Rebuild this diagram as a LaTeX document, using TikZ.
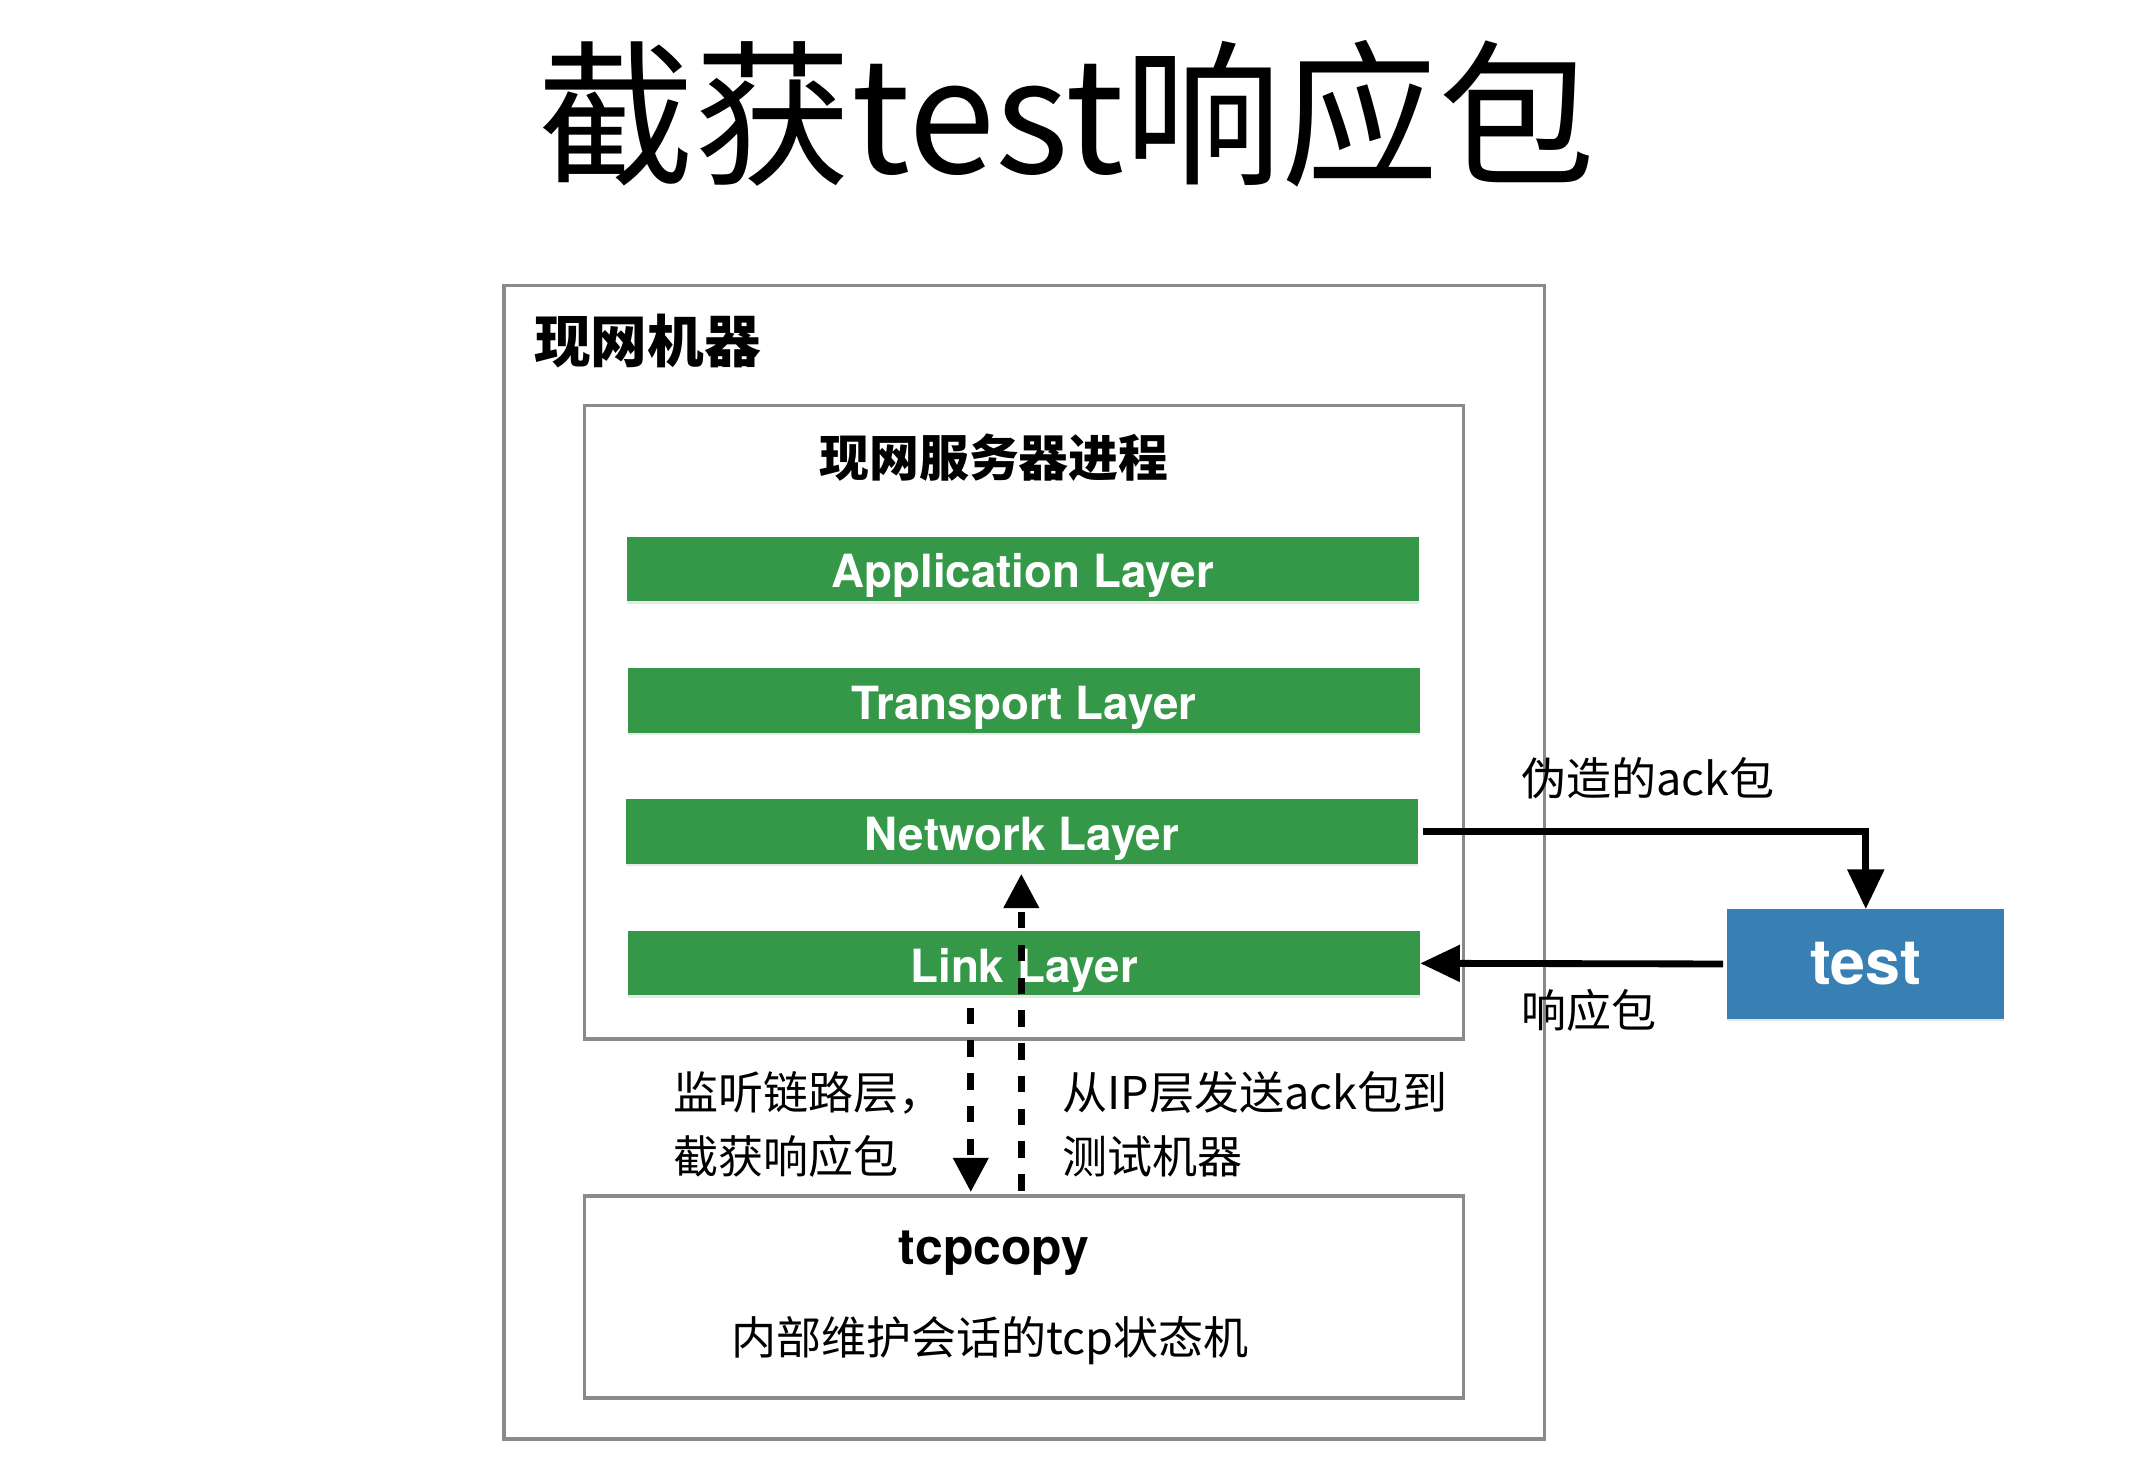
\documentclass[tikz,border=0pt]{standalone}
\usepackage{fontspec}
\setmainfont{Noto Sans CJK SC}
\newfontfamily\heros{TeX Gyre Heros}
\usetikzlibrary{arrows.meta,shadows}
\definecolor{boxgray}{RGB}{137,138,141}
\definecolor{layergreen}{RGB}{52,152,72}
\definecolor{testblue}{RGB}{56,128,180}
\tikzset{
  frame/.style={draw=boxgray, line width=2.5pt, inner sep=0pt},
  layer/.style={fill=layergreen, draw=none, minimum width=580pt, minimum height=47pt,
    inner sep=0pt, text=white, font=\heros\bfseries\fontsize{33.5}{36}\selectfont,
    text height=28pt, text depth=0pt,
    drop shadow={opacity=0.18, shadow xshift=0pt, shadow yshift=-2pt}},
  lbl/.style={inner sep=0pt, font=\fontsize{33}{47}\selectfont},
  conn/.style={line width=5pt, -{Triangle[length=29pt,width=26pt]}},
  dconn/.style={line width=5pt, dash pattern=on 12pt off 12pt, -{Triangle[length=25pt,width=25pt]}},
}
\begin{document}
\begin{tikzpicture}[x=1pt,y=-1pt]
\useasboundingbox (0,0) rectangle (1560,1072);
% title
\node[inner sep=0pt, font=\fontsize{115}{115}\selectfont] (title) at (781,83) {截获test响应包};
% outer machine
\node[frame, minimum width=762pt, minimum height=845pt] (machine) at (750,631.5) {};
\node[lbl, anchor=west, font=\bfseries\fontsize{41.5}{42}\selectfont] (machinelbl) at (391,250) {现网机器};
% server process
\node[frame, minimum width=644pt, minimum height=464pt] (proc) at (750,529) {};
\node[lbl, font=\bfseries\fontsize{36.5}{37}\selectfont] (proclbl) at (728,335) {现网服务器进程};
% layers
\node[layer] (app) at (749,416.5) {Application Layer};
\node[layer] (trans) at (750,513) {Transport Layer};
\node[layer] (net) at (748.5,609) {Network Layer};
\node[layer] (link) at (750,705.5) {Link Layer};
% tcpcopy
\node[frame, minimum width=644pt, minimum height=148pt] (tcpcopy) at (750,950) {};
\node[inner sep=0pt, font=\heros\bfseries\fontsize{36.5}{40}\selectfont] (tcplbl) at (728,918) {tcpcopy};
\node[lbl] (tcpdesc) at (725,982) {内部维护会话的tcp状态机};
% test machine
\node[fill=testblue, minimum width=203pt, minimum height=80pt, inner sep=0pt,
  text=white, font=\heros\bfseries\fontsize{46}{48}\selectfont,
  drop shadow={opacity=0.2, shadow xshift=0pt, shadow yshift=-2pt}] (test) at (1366.5,706) {test};
% connectors
\coordinate (netout) at (1042,609);
\coordinate (testin) at (1262,706);
\draw[conn] (netout) -| (test.north);
\draw[conn] (testin) -- (link.east);
\node[lbl, anchor=west] (acklbl) at (1114,570) {伪造的ack包};
\node[lbl, anchor=west] (resplbl) at (1114,740) {响应包};
% dashed connectors
\coordinate (downstart) at (711,738);
\coordinate (downend) at (711,873);
\coordinate (upstart) at (748,872);
\coordinate (upend) at (748,640);
\draw[dconn] (downstart) -- (downend);
\draw[dconn] (upstart) -- (upend);
\node[lbl, anchor=west, align=left] (leftlbl) at (493,823.5) {监听链路层，\\截获响应包};
\node[lbl, anchor=west, align=left] (rightlbl) at (778,823.5) {从IP层发送ack包到\\测试机器};
\end{tikzpicture}
\end{document}
